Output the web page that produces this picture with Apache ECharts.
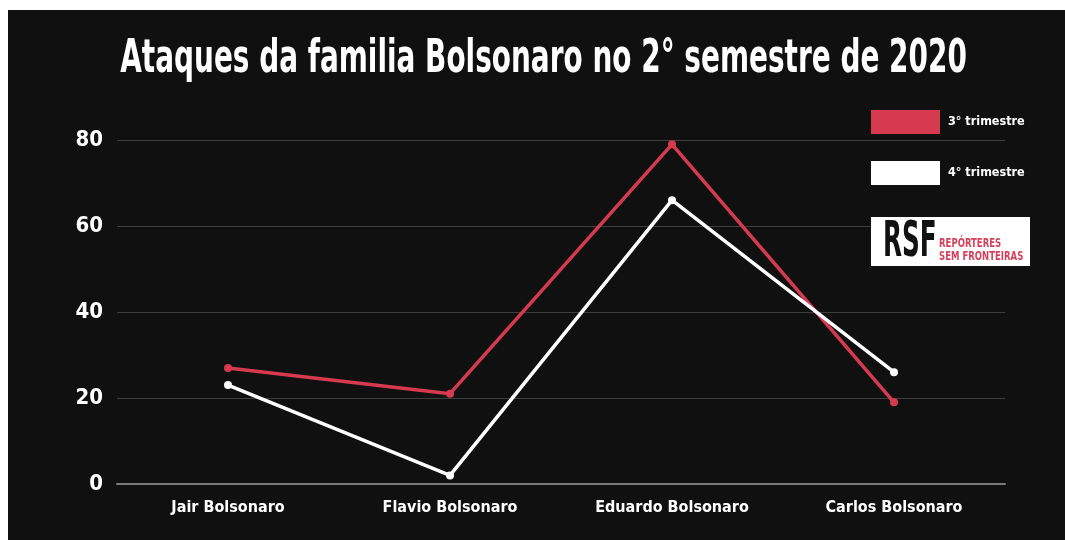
<!DOCTYPE html>
<html>
<head>
<meta charset="utf-8">
<style>
html,body{margin:0;padding:0;background:#fff;}
#c{width:1065px;height:540px;}
</style>
<script src="https://cdn.jsdelivr.net/npm/echarts@6/dist/echarts.min.js"></script>
</head>
<body>
<div id="c"></div>
<script>
const categories = ['Jair Bolsonaro', 'Flavio Bolsonaro', 'Eduardo Bolsonaro', 'Carlos Bolsonaro'];
const trimestre3 = [27, 21, 79, 19];
const trimestre4 = [23, 2, 66, 26];
const seriesNames = ['3° trimestre', '4° trimestre'];
const yTicks = [0, 20, 40, 60, 80];
const titleText = 'Ataques da familia Bolsonaro no 2° semestre de 2020';

const FONT = '"DejaVu Sans Condensed", "Liberation Sans Narrow", sans-serif';
const chart = echarts.init(document.getElementById('c'), null, {renderer: 'canvas'});
chart.setOption({
  backgroundColor: '#ffffff',
  animation: false,
  graphic: [
    {type: 'rect', z: -10, shape: {x: 8, y: 10, width: 1057, height: 530}, style: {fill: '#111010'}},
    {type: 'group', x: 543.5, y: 60, scaleX: 0.675, scaleY: 1, z: 10, children: [
      {type: 'text', x: 0, y: 0, z: 10,
        style: {text: titleText, fill: '#ffffff', font: 'bold 46px ' + FONT, textAlign: 'center', textVerticalAlign: 'middle'}}
    ]},
    {type: 'group', x: 871, y: 217, z: 100, children: [
      {type: 'rect', z: 100, shape: {x: 0, y: 0, width: 159, height: 49}, style: {fill: '#ffffff'}},
      {type: 'group', x: 12, y: 26, scaleX: 0.56, children: [
        {type: 'text', z: 101, x: 0, y: 0,
          style: {text: 'RSF', fill: '#111', font: 'bold 49px ' + FONT, textVerticalAlign: 'middle'}}
      ]},
      {type: 'group', x: 68, y: 0, scaleX: 0.79, children: [
        {type: 'text', z: 101, x: 0, y: 27,
          style: {text: 'REPÓRTERES', fill: '#d6405a', font: 'bold 12px ' + FONT, textVerticalAlign: 'middle'}},
        {type: 'text', z: 101, x: 0, y: 40,
          style: {text: 'SEM FRONTEIRAS', fill: '#d6405a', font: 'bold 12px ' + FONT, textVerticalAlign: 'middle'}}
      ]}
    ]}
  ],
  legend: {
    orient: 'vertical', left: 866, top: 105,
    itemWidth: 69, itemHeight: 24, itemGap: 27,
    icon: 'rect',
    textStyle: {color: '#ffffff', fontFamily: FONT, fontWeight: 'bold', fontSize: 12.5, padding: [0, 0, 0, 3]},
    data: seriesNames
  },
  grid: {left: 117, right: 60, top: 140, bottom: 56, containLabel: false},
  xAxis: {
    type: 'category', data: categories, boundaryGap: true,
    axisLine: {show: true, lineStyle: {color: '#7a7a7a', width: 2}},
    axisTick: {show: false},
    axisLabel: {color: '#ffffff', fontFamily: FONT, fontWeight: 'bold', fontSize: 16, margin: 16, interval: 0}
  },
  yAxis: {
    type: 'value', min: 0, max: 80, interval: 20,
    axisLine: {show: false}, axisTick: {show: false},
    splitLine: {lineStyle: {color: '#3e3e3e', width: 1}},
    axisLabel: {color: '#ffffff', fontFamily: FONT, fontWeight: 'bold', fontSize: 22, margin: 14,
      formatter: v => yTicks.includes(v) ? String(v) : ''}
  },
  series: [
    {name: seriesNames[0], type: 'line', data: trimestre3, symbol: 'circle', symbolSize: 8,
      lineStyle: {width: 3.5, color: '#d63a50'}, itemStyle: {color: '#d63a50'}},
    {name: seriesNames[1], type: 'line', data: trimestre4, symbol: 'circle', symbolSize: 8,
      lineStyle: {width: 3.5, color: '#ffffff'}, itemStyle: {color: '#ffffff'}}
  ]
});
</script>
</body>
</html>
